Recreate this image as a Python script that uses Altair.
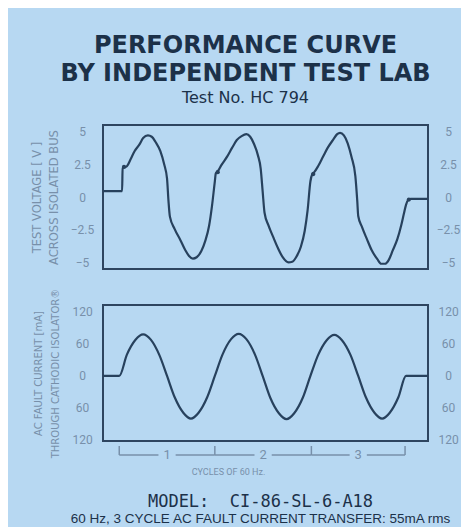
import altair as alt
import pandas as pd

# ---------------- data ----------------
# time in cycles of 60 Hz, voltage in V
volt_t = [-0.2, 0.0, 0.005, 0.05, 0.09, 0.13, 0.18, 0.22, 0.27, 0.31, 0.35, 0.40, 0.44, 0.47,
          0.485, 0.50, 0.55, 0.61, 0.66, 0.70, 0.74, 0.78, 0.83, 0.87, 0.91, 0.94, 0.97, 0.98,
          1.00, 1.04, 1.10, 1.15, 1.20, 1.25, 1.30, 1.34, 1.38, 1.42, 1.45, 1.47, 1.49, 1.53,
          1.58, 1.63, 1.68, 1.74, 1.78, 1.82, 1.87, 1.91, 1.94, 1.97, 1.99, 2.01, 2.05, 2.10,
          2.15, 2.21, 2.25, 2.28, 2.32, 2.36, 2.40, 2.44, 2.46, 2.47, 2.51, 2.56, 2.61, 2.67,
          2.71, 2.75, 2.79, 2.83, 2.88, 2.92, 2.95, 2.97, 2.99, 3.02, 3.2]
volt_v = [0.45, 0.45, 2.2, 2.35, 2.9, 3.5, 4.0, 4.5, 4.7, 4.6, 4.2, 3.5, 2.5, 1.4,
          -0.3, -1.5, -2.45, -3.3, -4.05, -4.5, -4.7, -4.6, -4.1, -3.35, -2.2, -0.7, 1.2, 1.8,
          1.95, 2.45, 3.1, 3.75, 4.35, 4.65, 4.8, 4.6, 4.05, 3.2, 2.15, 0.45, -1.2, -2.15,
          -3.05, -3.9, -4.6, -5.0, -4.95, -4.6, -3.8, -2.6, -1.05, 1.2, 1.75, 1.9, 2.35, 3.05,
          3.75, 4.4, 4.8, 4.9, 4.7, 4.1, 3.05, 1.6, -0.3, -1.45, -2.3, -3.2, -4.05, -4.75,
          -5.1, -5.1, -4.8, -4.1, -3.2, -2.15, -1.2, -0.6, -0.25, -0.15, -0.15]

# corner dots on the voltage trace
dot_t = [0.02, 1.0, 2.0, 3.0]
dot_v = [2.3, 1.9, 1.75, -0.2]

# AC fault current in mA
cur_t = [-0.2, -0.03, 0.05, 0.14, 0.22, 0.30, 0.39, 0.47, 0.55, 0.64, 0.72, 0.80, 0.89,
         0.97, 1.05, 1.14, 1.22, 1.30, 1.39, 1.47, 1.55, 1.64, 1.72, 1.80, 1.89,
         1.97, 2.05, 2.14, 2.22, 2.30, 2.39, 2.47, 2.55, 2.64, 2.72, 2.80, 2.89, 2.97, 3.2]
cur_v = [0, 0, 40, 68, 78, 68, 39, 0, -40, -69, -80, -69, -40,
         0, 40, 69, 79, 69, 40, 0, -41, -70, -81, -70, -41,
         0, 39, 67, 77, 67, 39, 0, -40, -69, -80, -69, -40, 0, 0]

volt_ticks = [5, 2.5, 0, -2.5, -5]
cur_ticks = [120, 60, 0, -60, -120]

cycle_bounds = [-0.03, 0.97, 1.98, 2.96]
cycle_names = ["1", "2", "3"]

# ---------------- styling ----------------
BG = "#b7d8f2"
INK = "#1c3149"
CURVE = "#27415d"
BOX = "#2e4560"
SOFT = "#7890aa"
NARROW = "Liberation Sans Narrow, Roboto, DejaVu Sans, sans-serif"

volt_df = pd.DataFrame({"t": volt_t, "v": volt_v})
dot_df = pd.DataFrame({"t": dot_t, "v": dot_v})
cur_df = pd.DataFrame({"t": cur_t, "i": cur_v})

mids = [(a + b) / 2 for a, b in zip(cycle_bounds[:-1], cycle_bounds[1:])]
gap = 0.09
seg_rows = []
for a, b, m in zip(cycle_bounds[:-1], cycle_bounds[1:], mids):
    seg_rows.append({"t": a, "t2": m - gap})
    seg_rows.append({"t": m + gap, "t2": b})
seg_df = pd.DataFrame(seg_rows)
bound_df = pd.DataFrame({"t": cycle_bounds})
name_df = pd.DataFrame({"t": mids, "n": cycle_names})

xscale = alt.Scale(domain=[-0.2, 3.2], nice=False, zero=False)
vscale = alt.Scale(domain=[-5.5, 5.5], nice=False, zero=False)
iscale = alt.Scale(domain=[-122, 133], nice=False, zero=False)

W = 325

# ---------------- top panel: voltage ----------------
v_line = alt.Chart(volt_df).mark_line(color=CURVE, strokeWidth=2.2, interpolate="monotone").encode(
    x=alt.X("t:Q", scale=xscale, axis=None),
    y=alt.Y("v:Q", scale=vscale, axis=alt.Axis(
        orient="left", values=volt_ticks, labelExpr="format(datum.value, '~g')",
        labelAlign="center", labelPadding=21,
        title=["TEST VOLTAGE [ V ]", "ACROSS ISOLATED BUS"],
        titleFontSize=11.5, titleLineHeight=17, titlePadding=11)),
)
v_dots = alt.Chart(dot_df).mark_circle(color=CURVE, size=18, opacity=1).encode(
    x=alt.X("t:Q", scale=xscale, axis=None),
    y=alt.Y("v:Q", scale=vscale, axis=alt.Axis(
        orient="right", values=volt_ticks, labelExpr="format(datum.value, '~g')",
        labelAlign="center", labelPadding=20, title=None)),
)
top = alt.layer(v_line, v_dots).resolve_axis(y="independent").properties(width=W, height=144)

# ---------------- bottom panel: current ----------------
i_x = alt.X("t:Q", scale=xscale, axis=alt.Axis(
    title="CYCLES OF 60 Hz.", labels=False, ticks=False, domain=False,
    titleFont=NARROW, titleFontSize=9, titleFontWeight="normal", titlePadding=26,
    titleX=125, titleAlign="center"))
i_line = alt.Chart(cur_df).mark_line(color=CURVE, strokeWidth=2.2, interpolate="monotone").encode(
    x=i_x,
    y=alt.Y("i:Q", scale=iscale, axis=alt.Axis(
        orient="left", values=cur_ticks, labelExpr="format(abs(datum.value), 'd')",
        labelAlign="center", labelPadding=21,
        title=["AC FAULT CURRENT [mA]", "THROUGH CATHODIC ISOLATOR\u00ae"],
        titleFontSize=10, titleLineHeight=17, titlePadding=11)),
)
i_right = alt.Chart(cur_df).mark_line(strokeOpacity=0).encode(
    x=alt.X("t:Q", scale=xscale),
    y=alt.Y("i:Q", scale=iscale, axis=alt.Axis(
        orient="right", values=cur_ticks, labelExpr="format(abs(datum.value), 'd')",
        labelAlign="center", labelPadding=20, title=None)),
)
b_ticks = alt.Chart(bound_df).mark_rule(color=SOFT, strokeWidth=1.5).encode(
    x=alt.X("t:Q", scale=xscale), y=alt.value(141), y2=alt.value(150))
b_segs = alt.Chart(seg_df).mark_rule(color=SOFT, strokeWidth=1.5).encode(
    x=alt.X("t:Q", scale=xscale), x2="t2:Q", y=alt.value(150))
b_names = alt.Chart(name_df).mark_text(color=SOFT, font=NARROW, fontSize=13, baseline="middle").encode(
    x=alt.X("t:Q", scale=xscale), y=alt.value(150), text="n:N")

bottom = alt.layer(i_line, i_right, b_ticks, b_segs, b_names).resolve_axis(y="independent").properties(
    width=W, height=136,
    title=alt.TitleParams(
        text="MODEL:\u00a0\u00a0CI-86-SL-6-A18",
        subtitle="60 Hz, 3 CYCLE AC FAULT CURRENT TRANSFER: 55mA rms",
        orient="bottom", anchor="middle", font="DejaVu Sans Mono", fontSize=17,
        fontWeight="normal", color=INK, subtitleFont="Liberation Sans",
        subtitleFontSize=13.5, subtitleColor=INK, subtitlePadding=1, offset=18, dx=-5),
)

chart = alt.vconcat(top, bottom, spacing=17).properties(
    title=alt.TitleParams(
        text=["PERFORMANCE CURVE", "BY INDEPENDENT TEST LAB"],
        subtitle="Test No. HC 794",
        font="DejaVu Sans", fontSize=24, fontWeight="bold", color=INK, lineHeight=28,
        subtitleFont="DejaVu Sans", subtitleFontSize=16, subtitleColor=INK,
        subtitlePadding=4, anchor="middle", offset=18),
    padding={"left": 22, "top": 26, "right": 0, "bottom": 0},
).configure(background=BG).configure_view(stroke=BOX, strokeWidth=2).configure_axis(
    grid=False, ticks=False, domain=False,
    labelFont=NARROW, labelFontSize=12, labelColor=SOFT,
    titleFont="DejaVu Sans", titleColor=SOFT, titleFontWeight="normal",
)

chart.save("out.html", embed_options={"renderer": "svg", "actions": False})
